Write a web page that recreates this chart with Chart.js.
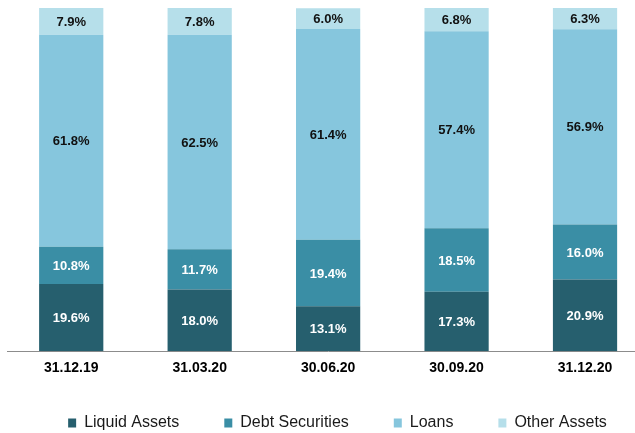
<!DOCTYPE html>
<html>
<head>
<meta charset="utf-8">
<script src="https://cdn.jsdelivr.net/npm/chart.js@4"></script>
<style>
  html, body { margin: 0; padding: 0; background: #fff; overflow: hidden; }
  #wrap { width: 635px; height: 433px; overflow: hidden; }
</style>
</head>
<body>
<div id="wrap"><canvas id="assetChart" width="668" height="457"></canvas></div>
<script>
// quarter end dates
const categories = ['31.12.19', '31.03.20', '30.06.20', '30.09.20', '31.12.20'];

// asset mix, % of total
const liquidAssets = [19.6, 18.0, 13.1, 17.3, 20.9];
const debtSecurities = [10.8, 11.7, 19.4, 18.5, 16.0];
const loans = [61.8, 62.5, 61.4, 57.4, 56.9];
const otherAssets = [7.9, 7.8, 6.0, 6.8, 6.3];

const seriesNames = ['Liquid Assets', 'Debt Securities', 'Loans', 'Other Assets'];
const seriesColors = ['#265f6e', '#3a8ea5', '#86c6dd', '#b6dfea'];
const labelColors = ['#ffffff', '#ffffff', '#111111', '#111111'];

const FONT = "'Liberation Sans', Arial, sans-serif";
const LEGEND_LIFT = 16; // legend padding is wide, pull the row up under the axis labels

// draws the % value in the middle of every segment
const segmentLabels = {
    id: 'segmentLabels',
    afterLayout(chart) {
        chart.legend.top -= LEGEND_LIFT;
        chart.legend.bottom -= LEGEND_LIFT;
    },
    afterDatasetsDraw(chart) {
        const ctx = chart.ctx;
        ctx.save();
        ctx.font = 'bold 13px ' + FONT;
        ctx.textAlign = 'center';
        ctx.textBaseline = 'middle';
        chart.data.datasets.forEach((ds, i) => {
            const meta = chart.getDatasetMeta(i);
            ctx.fillStyle = labelColors[i];
            meta.data.forEach((bar, j) => {
                const yMid = (bar.y + bar.base) / 2;
                ctx.fillText(ds.data[j].toFixed(1) + '%', bar.x, yMid + 1);
            });
        });
        ctx.restore();
    }
};

const canvas = document.getElementById('assetChart');
const chart = new Chart(canvas, {
    type: 'bar',
    data: {
        labels: categories,
        datasets: [liquidAssets, debtSecurities, loans, otherAssets].map((values, i) => ({
            label: seriesNames[i],
            data: values,
            backgroundColor: seriesColors[i],
            borderWidth: 0,
            barPercentage: 0.5,
            categoryPercentage: 1.0
        }))
    },
    options: {
        responsive: false,
        animation: false,
        layout: { padding: { top: 8, left: 7, right: 0, bottom: 0 } },
        plugins: {
            legend: {
                position: 'bottom',
                align: 'center',
                labels: {
                    boxWidth: 8,
                    boxHeight: 9,
                    padding: 45,
                    color: '#1a1a1a',
                    font: { family: FONT, size: 16 }
                }
            },
            tooltip: { enabled: false }
        },
        scales: {
            x: {
                stacked: true,
                grid: { display: false, drawTicks: false },
                border: { display: true, color: '#8c8c8c', width: 1 },
                ticks: {
                    color: '#000',
                    padding: 9,
                    font: { family: FONT, size: 14, weight: 'bold' }
                }
            },
            y: {
                stacked: true,
                display: false,
                min: 0,
                max: 100
            },
            // empty axis on the right so the plot runs past the window edge like the original
            y2: {
                position: 'right',
                grid: { display: false },
                border: { display: false },
                ticks: { display: false },
                afterFit(scale) { scale.width = 18.75; }
            }
        }
    },
    plugins: [segmentLabels]
});
</script>
</body>
</html>
